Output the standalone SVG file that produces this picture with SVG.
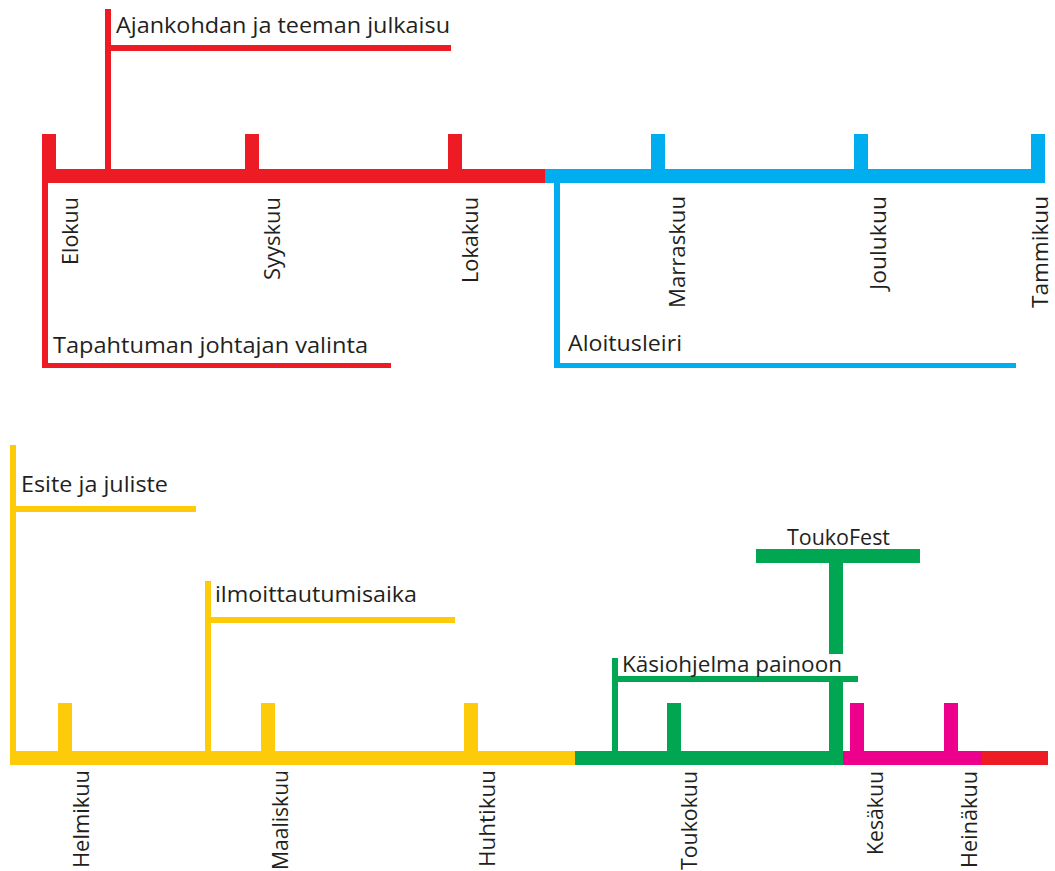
<svg xmlns="http://www.w3.org/2000/svg" width="1055" height="871" viewBox="0 0 1055 871">
<style>
  .r{fill:#ed1c24}.b{fill:#00aeef}.y{fill:#fecb0a}.g{fill:#00a651}.m{fill:#ec008c}.w{fill:#ffffff}
  text{font-family:"Open Sans","Liberation Sans",sans-serif;font-size:21px;fill:#231f20}
  .mo{text-anchor:end}
</style>
<rect width="1055" height="871" fill="#ffffff"/>

<!-- top timeline -->
<g id="timeline-top">
  <rect class="r" x="42" y="169" width="503" height="14"/>
  <rect class="b" x="545" y="169" width="500" height="14"/>
  <rect class="r" x="42" y="134" width="14" height="35"/>
  <rect class="r" x="245" y="134" width="14" height="35"/>
  <rect class="r" x="448" y="134" width="14" height="35"/>
  <rect class="b" x="651" y="134" width="14" height="35"/>
  <rect class="b" x="854" y="134" width="14" height="35"/>
  <rect class="b" x="1031" y="134" width="14" height="35"/>
</g>

<g id="months-top">
  <text class="mo" x="78" y="197" transform="rotate(-90 78 197)" textLength="68" lengthAdjust="spacingAndGlyphs">Elokuu</text>
  <text class="mo" x="280" y="197" transform="rotate(-90 280 197)" textLength="83" lengthAdjust="spacingAndGlyphs">Syyskuu</text>
  <text class="mo" x="478" y="197" transform="rotate(-90 478 197)" textLength="86" lengthAdjust="spacingAndGlyphs">Lokakuu</text>
  <text class="mo" x="685" y="196" transform="rotate(-90 685 196)" textLength="112" lengthAdjust="spacingAndGlyphs">Marraskuu</text>
  <text class="mo" x="886" y="196" transform="rotate(-90 886 196)" textLength="94" lengthAdjust="spacingAndGlyphs">Joulukuu</text>
  <text class="mo" x="1048" y="196" transform="rotate(-90 1048 196)" textLength="112" lengthAdjust="spacingAndGlyphs">Tammikuu</text>
</g>

<!-- bottom timeline -->
<g id="timeline-bottom">
  <rect class="y" x="10" y="751" width="565" height="14"/>
  <rect class="g" x="575" y="751" width="268" height="14"/>
  <rect class="m" x="843" y="751" width="139" height="14"/>
  <rect class="r" x="982" y="751" width="66" height="14"/>
  <rect class="y" x="58" y="703" width="14" height="48"/>
  <rect class="y" x="261" y="703" width="14" height="48"/>
  <rect class="y" x="464" y="703" width="14" height="48"/>
  <rect class="g" x="667" y="703" width="14" height="48"/>
  <rect class="m" x="850" y="703" width="14" height="48"/>
  <rect class="m" x="944" y="703" width="14" height="48"/>
</g>

<g id="months-bottom">
  <text class="mo" x="89" y="770" transform="rotate(-90 89 770)" textLength="98" lengthAdjust="spacingAndGlyphs">Helmikuu</text>
  <text class="mo" x="288" y="770" transform="rotate(-90 288 770)" textLength="100" lengthAdjust="spacingAndGlyphs">Maaliskuu</text>
  <text class="mo" x="495" y="770" transform="rotate(-90 495 770)" textLength="97" lengthAdjust="spacingAndGlyphs">Huhtikuu</text>
  <text class="mo" x="697" y="771" transform="rotate(-90 697 771)" textLength="99" lengthAdjust="spacingAndGlyphs">Toukokuu</text>
  <text class="mo" x="883" y="771" transform="rotate(-90 883 771)" textLength="84" lengthAdjust="spacingAndGlyphs">Kesäkuu</text>
  <text class="mo" x="977" y="771" transform="rotate(-90 977 771)" textLength="97" lengthAdjust="spacingAndGlyphs">Heinäkuu</text>
</g>

<!-- connectors (event stems and underlines) -->
<g id="connectors">
  <rect class="r" x="105" y="9" width="6" height="160"/>
  <rect class="r" x="111" y="45" width="340" height="6"/>
  <rect class="r" x="42" y="183" width="6" height="185"/>
  <rect class="r" x="48" y="363" width="343" height="5"/>
  <rect class="b" x="554" y="183" width="6" height="185"/>
  <rect class="b" x="560" y="363" width="456" height="5"/>
  <rect class="y" x="10" y="445" width="6" height="306"/>
  <rect class="y" x="16" y="506" width="180" height="6"/>
  <rect class="y" x="205" y="581" width="6" height="170"/>
  <rect class="y" x="211" y="617" width="244" height="6"/>
  <rect class="g" x="829" y="563" width="14" height="188"/>
  <rect class="g" x="756" y="549" width="164" height="14"/>
  <rect class="g" x="612" y="658" width="6" height="93"/>
  <rect class="w" x="618" y="654" width="242" height="22"/>
  <rect class="g" x="618" y="676" width="240" height="6"/>
</g>

<g id="event-ajankohta">
  <text x="116" y="33" textLength="334" lengthAdjust="spacingAndGlyphs">Ajankohdan ja teeman julkaisu</text>
</g>
<g id="event-johtaja">
  <text x="53" y="353" textLength="315" lengthAdjust="spacingAndGlyphs">Tapahtuman johtajan valinta</text>
</g>
<g id="event-aloitusleiri">
  <text x="568" y="351" textLength="114" lengthAdjust="spacingAndGlyphs">Aloitusleiri</text>
</g>
<g id="event-esite">
  <text x="21" y="492" textLength="147" lengthAdjust="spacingAndGlyphs">Esite ja juliste</text>
</g>
<g id="event-ilmoittautuminen">
  <text x="215" y="602" textLength="202" lengthAdjust="spacingAndGlyphs">ilmoittautumisaika</text>
</g>
<g id="event-toukofest">
  <text x="787" y="545" textLength="103" lengthAdjust="spacingAndGlyphs">ToukoFest</text>
</g>
<g id="event-kasiohjelma">
  <text x="622" y="672" textLength="220" lengthAdjust="spacingAndGlyphs">Käsiohjelma painoon</text>
</g>
</svg>
